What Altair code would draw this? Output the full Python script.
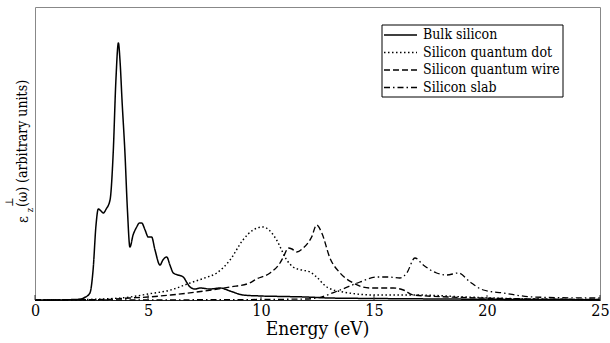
import altair as alt
import pandas as pd

FONT = "DejaVu Serif Condensed"

names = ["Bulk silicon", "Silicon quantum dot", "Silicon quantum wire", "Silicon slab"]
dashes = [[1, 0], [1.5, 2.5], [6, 3], [6, 3, 1.5, 3]]
widths = [1.5, 1.3, 1.3, 1.3]

bulk_e = [0, 1.0, 1.5, 1.99, 2.2, 2.43, 2.57, 2.70, 2.80, 2.92, 3.02, 3.15, 3.32, 3.46, 3.58, 3.69,
          3.76, 3.85, 3.98, 4.09, 4.20, 4.34, 4.50, 4.62, 4.72, 4.87, 5.01, 5.16, 5.31, 5.53, 5.66,
          5.83, 5.97, 6.12, 6.33, 6.56, 6.73, 6.86, 7.08, 7.30, 7.74, 8.19, 8.63, 9.20, 10, 11, 12,
          13, 15, 18, 21, 25]
bulk_v = [0, 0, 0.3, 0.8, 2.5, 7, 30, 75, 91, 89, 87, 91, 100, 147, 220, 257,
          240, 200, 147, 90, 53, 65, 73, 77, 77, 70, 63, 63, 50, 35, 40,
          43, 35, 27, 25, 23, 17, 13, 11, 12, 11, 12, 9, 5, 4, 3.5, 3,
          2, 1.5, 1, 0.6, 0.3]

dot_e = [0, 1.5, 3, 4.20, 5, 6, 6.86, 7.5, 8.04, 8.63, 9.20, 9.65, 10.09, 10.40, 10.69, 11.14,
         11.42, 11.8, 12.17, 12.46, 12.91, 13.63, 15.04, 16.89, 19.10, 22, 25]
dot_v = [0, 0.3, 1, 3, 6, 10, 17, 22, 27, 40, 60, 70, 73, 69, 60, 40,
         33, 30, 28, 23, 13, 8, 5, 5, 3, 1, 0.5]

wire_e = [0, 3, 4.2, 5, 6, 7.15, 8.63, 9.5, 9.8, 10.40, 10.84, 10.99, 11.21, 11.37, 11.58, 11.87,
          12.24, 12.46, 12.69, 13.05, 13.50, 14.08, 14.82, 15.85, 16.30, 16.74, 18.36, 22, 25]
wire_v = [0, 0.5, 2, 3, 5, 8, 13, 17, 21, 27, 37, 43, 52, 51, 48, 52,
          63, 75, 67, 42, 27, 17, 12, 12, 10, 5, 3, 1, 0.5]

slab_e = [0, 8, 12, 12.46, 13.50, 14.38, 15.12, 15.6, 16.15, 16.45, 16.81, 17.18, 17.77, 18.22,
          18.73, 19.25, 19.84, 20.72, 22.04, 24.78, 25]
slab_v = [0, 0.3, 1, 2, 10, 18, 23, 23, 22, 27, 42, 35, 27, 25,
          27, 18, 10, 7, 3, 2, 2]

x_ticks = [0, 5, 10, 15, 20, 25]
x_title = "Energy (eV)"

rows = []
for n, es, vs in zip(names, [bulk_e, dot_e, wire_e, slab_e], [bulk_v, dot_v, wire_v, slab_v]):
    for i, (e, v) in enumerate(zip(es, vs)):
        rows.append({"series": n, "E": e, "v": v, "order": i})
df = pd.DataFrame(rows)

W, H = 565, 293
xscale = alt.Scale(domain=[0, 25], nice=False, zero=False)
yscale = alt.Scale(domain=[0, 293], nice=False)

lines = alt.Chart(df).mark_line(interpolate="monotone", color="black").encode(
    x=alt.X("E:Q", scale=xscale,
            axis=alt.Axis(values=x_ticks, title=None, ticks=False, grid=False,
                          labelFont=FONT, labelFontSize=16, labelColor="black",
                          labelPadding=2, domainColor="#222", labelFlush=False)),
    y=alt.Y("v:Q", scale=yscale, axis=None),
    order="order:Q",
    detail="series:N",
    strokeDash=alt.StrokeDash("series:N", scale=alt.Scale(domain=names, range=dashes), legend=None),
    strokeWidth=alt.StrokeWidth("series:N", scale=alt.Scale(domain=names, range=widths), legend=None),
)

ticks = alt.Chart(pd.DataFrame({"t": x_ticks})).mark_rule(color="#333", strokeWidth=1).encode(
    x=alt.X("t:Q", scale=xscale),
    y=alt.value(H - 5), y2=alt.value(H),
)

xt = alt.Chart(pd.DataFrame({"label": [x_title]})).mark_text(
    align="center", baseline="alphabetic", font=FONT, fontSize=19, fontWeight="normal",
    color="black").encode(x=alt.value(W / 2), y=alt.value(H + 35), text="label:N")

# legend
lx0, lx1, ly0, ly1 = 347, 528, 18, 90
legend_box = alt.Chart(pd.DataFrame({"a": [0]})).mark_rect(
    fill="white", stroke="black", strokeWidth=1).encode(
    x=alt.value(lx0), x2=alt.value(lx1), y=alt.value(ly0), y2=alt.value(ly1))

legend_layers = []
ys = [28, 45.5, 63, 80.5]
for n, d, w, yy in zip(names, dashes, widths, ys):
    ld = pd.DataFrame({"label": [n]})
    legend_layers.append(alt.Chart(ld).mark_rule(color="black", strokeDash=d, strokeWidth=w).encode(
        x=alt.value(349), x2=alt.value(382), y=alt.value(yy)))
    legend_layers.append(alt.Chart(ld).mark_text(align="left", baseline="middle", font=FONT,
                                                 fontSize=14, color="black").encode(
        x=alt.value(388), y=alt.value(yy), text="label:N"))

# y title
ylab = pd.DataFrame({"eps": ["ε"], "perp": ["⊥"], "z": ["z"], "rest": ["(ω) (arbitrary units)"]})
ytitle = [
    alt.Chart(ylab).mark_text(angle=270, align="left", baseline="middle", font=FONT, fontSize=15,
                              color="black").encode(x=alt.value(-12), y=alt.value(216), text="eps:N"),
    alt.Chart(ylab).mark_text(angle=270, align="center", baseline="middle", font=FONT, fontSize=11,
                              color="black").encode(x=alt.value(-25), y=alt.value(195), text="perp:N"),
    alt.Chart(ylab).mark_text(angle=270, align="center", baseline="middle", font=FONT, fontSize=9,
                              color="black").encode(x=alt.value(-5), y=alt.value(203), text="z:N"),
    alt.Chart(ylab).mark_text(angle=270, align="left", baseline="middle", font=FONT, fontSize=14,
                              color="black").encode(x=alt.value(-12), y=alt.value(200), text="rest:N"),
]

chart = alt.layer(lines, ticks, xt, legend_box, *legend_layers, *ytitle).properties(
    width=W, height=H,
    autosize=alt.AutoSizeParams(type="none"),
    padding={"left": 35, "top": 7, "right": 10, "bottom": 43},
    background="white",
).configure_view(stroke="#888", strokeWidth=1)

chart.save("out.html", embed_options={"renderer": "svg", "actions": False})
